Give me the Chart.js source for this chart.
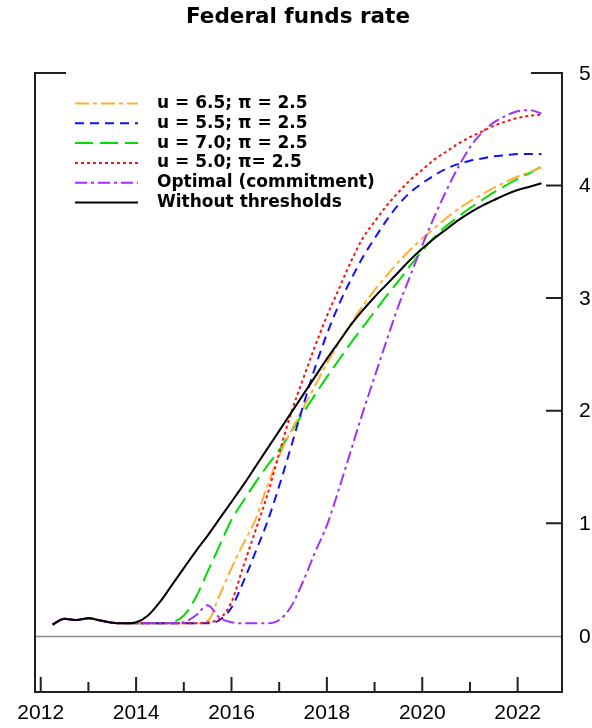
<!DOCTYPE html>
<html>
<head>
<meta charset="utf-8">
<script src="https://cdn.jsdelivr.net/npm/chart.js@4.4.1/dist/chart.umd.min.js"></script>
<style>
  html, body { margin: 0; padding: 0; background: #fff; }
</style>
</head>
<body>
<canvas id="ffr" width="592" height="728"></canvas>
<script>
// quarterly path of the federal funds rate, percent
const years = [
  2012.25, 2012.5, 2012.75, 2013.0, 2013.25, 2013.5, 2013.75,
  2014.0, 2014.25, 2014.5, 2014.75, 2015.0, 2015.25, 2015.5, 2015.75,
  2016.0, 2016.25, 2016.5, 2016.75, 2017.0, 2017.25, 2017.5, 2017.75,
  2018.0, 2018.25, 2018.5, 2018.75, 2019.0, 2019.25, 2019.5, 2019.75,
  2020.0, 2020.25, 2020.5, 2020.75, 2021.0, 2021.25, 2021.5, 2021.75,
  2022.0, 2022.25, 2022.5
];

const early = [0.10, 0.15, 0.14, 0.155, 0.135, 0.115, 0.11];

const u65 = early.concat([
  0.11, 0.11, 0.11, 0.11, 0.11, 0.11, 0.13, 0.36,
  0.60, 0.82, 1.03, 1.33, 1.60, 1.82, 2.02, 2.22,
  2.42, 2.60, 2.77, 2.93, 3.07, 3.20, 3.32, 3.43,
  3.53, 3.62, 3.71, 3.79, 3.86, 3.92, 3.98, 4.03,
  4.08, 4.12, 4.16
]);

const u55 = early.concat([
  0.11, 0.11, 0.11, 0.11, 0.11, 0.11, 0.11, 0.14,
  0.25, 0.48, 0.74, 1.01, 1.33, 1.68, 2.04, 2.38,
  2.68, 2.94, 3.16, 3.36, 3.53, 3.69, 3.83, 3.94,
  4.02, 4.09, 4.15, 4.19, 4.22, 4.24, 4.26, 4.27,
  4.28, 4.28, 4.28
]);

const u70 = early.concat([
  0.11, 0.11, 0.11, 0.12, 0.18, 0.34, 0.57, 0.80,
  1.03, 1.20, 1.36, 1.51, 1.65, 1.81, 1.98, 2.14,
  2.30, 2.45, 2.60, 2.74, 2.88, 3.02, 3.15, 3.29,
  3.42, 3.54, 3.64, 3.72, 3.80, 3.87, 3.94, 4.00,
  4.06, 4.11, 4.17
]);

const u50 = early.concat([
  0.11, 0.11, 0.11, 0.11, 0.11, 0.11, 0.12, 0.15,
  0.30, 0.62, 0.93, 1.25, 1.62, 1.98, 2.28, 2.57,
  2.84, 3.08, 3.32, 3.53, 3.68, 3.82, 3.94, 4.05,
  4.14, 4.23, 4.30, 4.37, 4.43, 4.48, 4.53, 4.57,
  4.60, 4.62, 4.63
]);

const optimal = early.concat([
  0.11, 0.11, 0.11, 0.11, 0.12, 0.18, 0.27, 0.16,
  0.12, 0.11, 0.11, 0.11, 0.14, 0.26, 0.48, 0.74,
  0.98, 1.30, 1.64, 1.98, 2.30, 2.62, 2.93, 3.20,
  3.47, 3.72, 3.95, 4.16, 4.34, 4.47, 4.56, 4.62,
  4.66, 4.67, 4.64
]);

const noThresholds = early.concat([
  0.12, 0.18, 0.30, 0.45, 0.60, 0.75, 0.89, 1.04,
  1.19, 1.34, 1.50, 1.66, 1.82, 1.98, 2.14, 2.30,
  2.46, 2.61, 2.76, 2.89, 3.01, 3.12, 3.23, 3.34,
  3.44, 3.53, 3.61, 3.69, 3.76, 3.82, 3.87, 3.92,
  3.96, 3.99, 4.02
]);

const seriesNames = [
  'u = 6.5; \u03c0 = 2.5',
  'u = 5.5; \u03c0 = 2.5',
  'u = 7.0; \u03c0 = 2.5',
  'u = 5.0; \u03c0= 2.5',
  'Optimal (commitment)',
  'Without thresholds'
];
const seriesValues = [u65, u55, u70, u50, optimal, noThresholds];
const seriesColors = ['#ffb030', '#1010ff', '#00dd00', '#ff1010', '#a030ff', '#000000'];
const seriesDash = [[14, 4, 4, 4], [9, 6], [18, 7], [3, 3], [12, 4, 3, 4], []];
const seriesOrder = [4, 3, 5, 2, 1, 0];

const xTicks = [2012, 2013, 2014, 2015, 2016, 2017, 2018, 2019, 2020, 2021, 2022];
const xTickLabels = ['2012', '2014', '2016', '2018', '2020', '2022'];
const yTicks = [0, 1, 2, 3, 4, 5];

const datasets = seriesValues.map((vals, i) => ({
  label: seriesNames[i],
  data: years.map((yr, j) => ({ x: yr, y: vals[j] })),
  borderColor: seriesColors[i],
  borderDash: seriesDash[i],
  borderWidth: 2,
  pointRadius: 0,
  fill: false,
  cubicInterpolationMode: 'monotone',
  order: seriesOrder[i]
}));

// frame, ticks, labels, title and legend
const framePlugin = {
  id: 'frame',
  afterDraw(chart) {
    const ctx = chart.ctx;
    const { left, right, top, bottom } = chart.chartArea;
    const xs = chart.scales.x;
    const ys = chart.scales.y;
    ctx.save();

    // zero line
    const y0 = Math.round(ys.getPixelForValue(0)) + 0.5;
    ctx.strokeStyle = '#8a8a8a';
    ctx.lineWidth = 1.5;
    ctx.beginPath();
    ctx.moveTo(left, y0);
    ctx.lineTo(right, y0);
    ctx.stroke();

    // box: left, bottom, right and the top stubs
    ctx.strokeStyle = '#202020';
    ctx.lineWidth = 2;
    ctx.beginPath();
    ctx.moveTo(left + 31, top);
    ctx.lineTo(left, top);
    ctx.lineTo(left, bottom);
    ctx.lineTo(right, bottom);
    ctx.lineTo(right, top);
    ctx.lineTo(right - 31, top);
    ctx.stroke();

    // right axis ticks
    ctx.beginPath();
    yTicks.slice(1, -1).forEach((v) => {
      const py = ys.getPixelForValue(v);
      ctx.moveTo(right, py);
      ctx.lineTo(right - 16, py);
    });
    // year ticks, taller on even years
    xTicks.forEach((yr) => {
      const px = xs.getPixelForValue(yr);
      ctx.moveTo(px, bottom);
      ctx.lineTo(px, bottom - (yr % 2 === 0 ? 15 : 10));
    });
    ctx.stroke();

    ctx.fillStyle = '#000';
    ctx.font = '21px "Liberation Sans", Arial, sans-serif';
    ctx.textBaseline = 'middle';
    ctx.textAlign = 'center';
    xTickLabels.forEach((lab) => {
      ctx.fillText(lab, xs.getPixelForValue(Number(lab)), 713);
    });
    ctx.textAlign = 'left';
    yTicks.forEach((v) => {
      ctx.fillText(String(v), 579, ys.getPixelForValue(v) + 1);
    });

    // title
    ctx.textAlign = 'center';
    ctx.textBaseline = 'alphabetic';
    ctx.font = 'bold 21.5px "DejaVu Sans", sans-serif';
    ctx.fillText('Federal funds rate', 298, 23);

    // legend
    ctx.font = 'bold 17px "DejaVu Sans", sans-serif';
    ctx.textAlign = 'left';
    ctx.textBaseline = 'middle';
    seriesNames.forEach((name, i) => {
      const ly = 103.5 + i * 19.8;
      ctx.strokeStyle = seriesColors[i];
      ctx.lineWidth = 2;
      ctx.setLineDash(seriesDash[i]);
      ctx.beginPath();
      ctx.moveTo(75, ly);
      ctx.lineTo(138, ly);
      ctx.stroke();
      ctx.setLineDash([]);
      ctx.fillText(name, 157, ly);
    });

    ctx.restore();
  }
};

new Chart(document.getElementById('ffr'), {
  type: 'line',
  data: { datasets },
  options: {
    responsive: false,
    animation: false,
    layout: { padding: { left: 35, right: 30, top: 73, bottom: 36 } },
    plugins: {
      legend: { display: false },
      tooltip: { enabled: false },
      title: { display: false }
    },
    scales: {
      x: { type: 'linear', min: 2011.88, max: 2022.93, display: false },
      y: { type: 'linear', min: -0.5, max: 5, display: false }
    }
  },
  plugins: [framePlugin]
});
</script>
</body>
</html>
